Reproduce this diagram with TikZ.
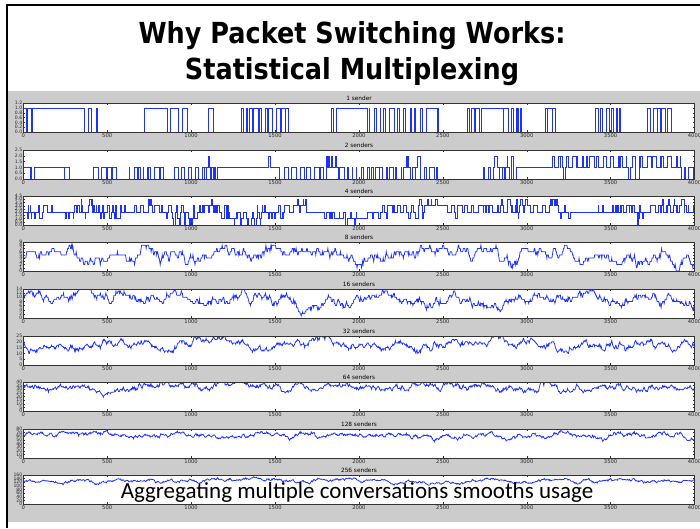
\documentclass[tikz,border=0pt]{standalone}
\usepackage{fontspec}
\setmainfont{Carlito}
\newfontfamily\titlefont[FakeStretch=0.88]{DejaVu Sans}
\newfontfamily\axisfont{DejaVu Sans}
\definecolor{slidegray}{RGB}{204,204,204}
\definecolor{traceblue}{RGB}{30,50,255}

% ---------- panel geometry (1pt = 1px, y grows downwards) ----------
\def\axL{23.3}
\def\axR{694.5}
\def\axH{29}
\def\tunit{0.1678}% pt per time unit, 0..4000

\newcount\simT
\newcount\simI
\newcount\simN
\newcount\simCur
\newcount\simPrev
\newdimen\simX
\newdimen\simY
\newdimen\simScale
\newdimen\simBot

% length of one on/off period: mostly short bursts, sometimes a long hold
\def\simDrawDur{%
  \pgfmathrnd
  \ifdim\pgfmathresult pt<0.9pt
    \pgfmathrandominteger{\simDur}{1}{30}%
  \else
    \pgfmathrandominteger{\simDur}{40}{420}%
  \fi}

\def\simSetXY#1#2{%
  \simX=\tunit pt \multiply\simX by #1\relax \advance\simX by \axL pt\relax
  \simY=\simScale \multiply\simY by #2\relax \advance\simY by -\simBot}

\def\simInit{%
  \ifnum\simI<\simN
    \advance\simI by 1
    \pgfmathrandominteger{\tmpst}{0}{1}%
    \expandafter\let\csname st@\the\simI\endcsname\tmpst
    \advance\simCur by \tmpst\relax
    \simDrawDur
    \expandafter\let\csname du@\the\simI\endcsname\simDur
    \expandafter\simInit
  \fi}

\def\simSenderStep{%
  \ifnum\simI<\simN
    \advance\simI by 1
    \edef\tmpd{\the\numexpr\csname du@\the\simI\endcsname-1\relax}%
    \expandafter\let\csname du@\the\simI\endcsname\tmpd
    \ifnum\tmpd<1
      \ifnum\csname st@\the\simI\endcsname=1
        \expandafter\def\csname st@\the\simI\endcsname{0}\advance\simCur by -1
      \else
        \expandafter\def\csname st@\the\simI\endcsname{1}\advance\simCur by 1
      \fi
      \simDrawDur
      \expandafter\let\csname du@\the\simI\endcsname\simDur
    \fi
    \expandafter\simSenderStep
  \fi}

\def\simTimeStep{%
  \ifnum\simT<4000
    \advance\simT by 1
    \simI=0 \simSenderStep
    \ifnum\simCur=\simPrev\else
      \simSetXY\simT\simPrev
      \pgfpathlineto{\pgfqpoint{\simX}{\simY}}%
      \simSetXY\simT\simCur
      \pgfpathlineto{\pgfqpoint{\simX}{\simY}}%
      \simPrev=\simCur
    \fi
    \expandafter\simTimeStep
  \fi}

\def\seriesclip#1#2{%
  \pgfpathrectanglecorners{\pgfqpoint{\axL pt}{-#1pt}}{\pgfqpoint{\axR pt}{-\simBot-0.4pt}}%
  \pgfusepath{clip}%
  \pgfsetlinewidth{#2}%
  \pgfsetstrokecolor{traceblue}}

% sum of #1 independent on/off senders, drawn as a staircase
\def\onoffseries#1#2#3{% senders, panel top, y max
  \simN=#1\relax
  \pgfmathsetlength\simScale{\axH/#3}%
  \simBot=\dimexpr #2pt+\axH pt\relax
  \simI=0 \simCur=0 \simInit
  \simPrev=\simCur \simT=0
  \begin{pgfscope}
    \seriesclip{#2}{0.6pt}%
    \simSetXY\simT\simCur
    \pgfpathmoveto{\pgfqpoint{\simX}{\simY}}%
    \simTimeStep
    \simSetXY\simT\simCur
    \pgfpathlineto{\pgfqpoint{\simX}{\simY}}%
    \pgfusepath{stroke}%
  \end{pgfscope}}

% many senders: number of active senders as a birth-death process
\def\bdStep{%
  \ifnum\simT<4000
    \advance\simT by 3
    \pgfmathparse{max(0,min(\bdN,round(\bdX+\bdQ*(\bdN-\bdX)-\bdP*\bdX+sqrt(\bdP*(1-\bdP)*\bdX+\bdQ*(1-\bdQ)*(\bdN-\bdX))*(rand+rand+rand))))}%
    \let\bdX\pgfmathresult
    \simX=\tunit pt \multiply\simX by \simT \advance\simX by \axL pt\relax
    \simY=\bdX\simScale \advance\simY by -\simBot
    \pgfpathlineto{\pgfqpoint{\simX}{\simY}}%
    \expandafter\bdStep
  \fi}

\def\bdseries#1#2#3#4#5{% senders, panel top, y max, switching rate per step, share of active senders
  \def\bdN{#1}%
  \pgfmathsetmacro\bdP{(1-#5)*#4}%
  \pgfmathsetmacro\bdQ{#5*#4}%
  \pgfmathsetlength\simScale{\axH/#3}%
  \simBot=\dimexpr #2pt+\axH pt\relax
  \pgfmathparse{round(#5*#1+sqrt(0.25*#1)*rand)}\let\bdX\pgfmathresult
  \simT=0
  \begin{pgfscope}
    \seriesclip{#2}{0.75pt}%
    \simX=\axL pt
    \simY=\bdX\simScale \advance\simY by -\simBot
    \pgfpathmoveto{\pgfqpoint{\simX}{\simY}}%
    \bdStep
    \pgfusepath{stroke}%
  \end{pgfscope}}

\tikzset{
  axbox/.style={draw=black!80, line width=0.4pt},
  tickmark/.style={draw=black!80, line width=0.3pt},
  ticklabel/.style={font=\axisfont\fontsize{5.2}{5.2}\selectfont, inner sep=0pt, text=black!85},
  yticklabel/.style={font=\axisfont\fontsize{4.6}{4.6}\selectfont, inner sep=0pt, text=black!85},
  plottitle/.style={font=\axisfont\fontsize{5.8}{5.8}\selectfont, inner sep=0pt},
  slidetitle/.style={font=\titlefont\bfseries\fontsize{29}{36}\selectfont, inner sep=0pt, anchor=base},
  captiontext/.style={font=\fontsize{23}{26}\selectfont, inner sep=0pt, anchor=base},
}

% one panel: white plot area, trace, frame, ticks and labels
\newcommand\plotrow[6]{% name, top, title, y max, y tick labels, trace code
  \fill[white] (\axL,#2) rectangle (\axR,#2+\axH);
  #6
  \draw[axbox] (\axL,#2) rectangle (\axR,#2+\axH);
  \node[plottitle] (#1-title) at (359,#2-4.3) {#3};
  \foreach \xt in {0,500,...,4000}{
    \draw[tickmark] (\axL+\xt*\tunit,#2+\axH) -- ++(0,-2)
                    (\axL+\xt*\tunit,#2) -- ++(0,2);
    \node[ticklabel, anchor=north] (#1-x\xt) at (\axL+\xt*\tunit,#2+\axH+1.8) {\xt};
  }
  \foreach \yt [count=\k] in {#5}{
    \draw[tickmark] (\axL,#2+\axH-\yt*\axH/#4) -- ++(2,0)
                    (\axR,#2+\axH-\yt*\axH/#4) -- ++(-2,0);
    \node[yticklabel, anchor=east] (#1-y\k) at (\axL-0.8,#2+\axH-\yt*\axH/#4) {\yt};
  }
}

\begin{document}
\begin{tikzpicture}[x=1pt,y=-1pt]
\useasboundingbox (0,0) rectangle (700,528);
\fill[white] (0,0) rectangle (700,528);
\fill[slidegray] (8,91) rectangle (700,522);
\draw[black, line width=1.6pt] (7,528) -- (7,5) -- (700,5);

\node[slidetitle] (title1) at (352,43) {Why Packet Switching Works:};
\node[slidetitle] (title2) at (352,79) {Statistical Multiplexing};

\plotrow{p1}{103}{1 sender}{1.2}{0.0,0.2,0.4,0.6,0.8,1.0,1.2}
  {\pgfmathsetseed{4711}\onoffseries{1}{103}{1.2}}
\plotrow{p2}{150}{2 senders}{2.5}{0.0,0.5,1.0,1.5,2.0,2.5}
  {\pgfmathsetseed{2024}\onoffseries{2}{150}{2.5}}
\plotrow{p4}{196}{4 senders}{4.5}{0.0,0.5,1.0,1.5,2.0,2.5,3.0,3.5,4.0,4.5}
  {\pgfmathsetseed{913}\onoffseries{4}{196}{4.5}}
\plotrow{p8}{242}{8 senders}{9}{0,1,2,3,4,5,6,7,8,9}
  {\pgfmathsetseed{31}\bdseries{8}{242}{9}{0.06}{0.56}}
\plotrow{p16}{289}{16 senders}{14}{0,2,4,6,8,10,12,14}
  {\pgfmathsetseed{77}\bdseries{16}{289}{14}{0.06}{0.55}}
\plotrow{p32}{336}{32 senders}{25}{0,5,10,15,20,25}
  {\pgfmathsetseed{505}\bdseries{32}{336}{25}{0.06}{0.52}}
\plotrow{p64}{382}{64 senders}{40}{0,5,10,15,20,25,30,35,40}
  {\pgfmathsetseed{808}\bdseries{64}{382}{40}{0.06}{0.5}}
\plotrow{p128}{429}{128 senders}{80}{0,10,20,30,40,50,60,70,80}
  {\pgfmathsetseed{1313}\bdseries{128}{429}{80}{0.06}{0.49}}
\plotrow{p256}{475}{256 senders}{160}{0,20,40,60,80,100,120,140,160}
  {\pgfmathsetseed{2718}\bdseries{256}{475}{160}{0.06}{0.51}}

\node[captiontext] (summary) at (357,498) {Aggregating multiple conversations smooths usage};
\end{tikzpicture}
\end{document}
